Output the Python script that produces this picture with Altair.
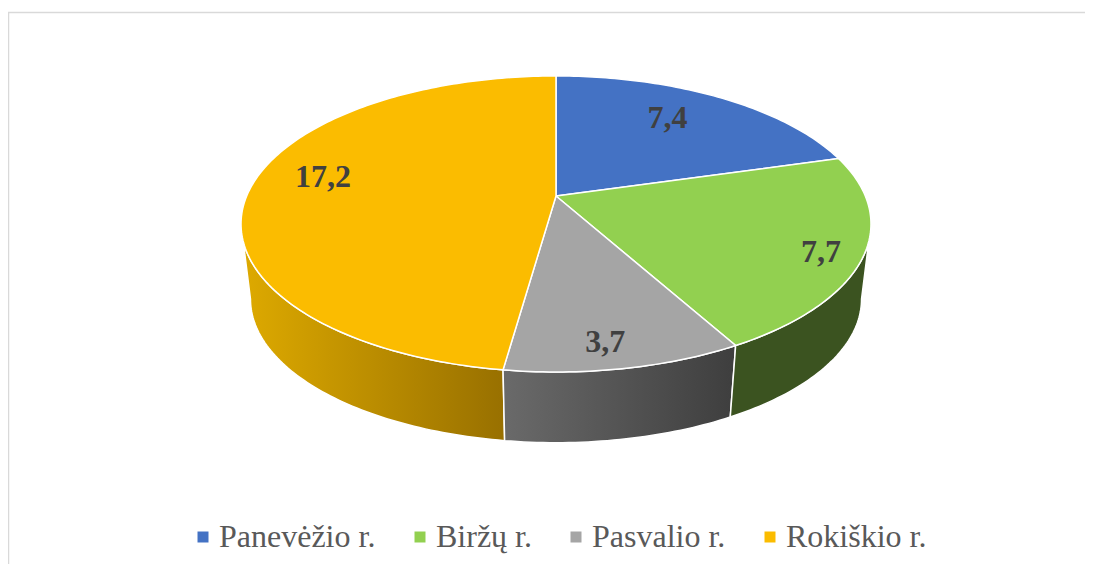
import math
import altair as alt

# ---- data ----
names = ["Panevėžio r.", "Biržų r.", "Pasvalio r.", "Rokiškio r."]
values = [7.4, 7.7, 3.7, 17.2]
top_colors = ["#4472c4", "#92d050", "#a5a5a5", "#fbbc00"]
label_fx = [0.69, 0.86, 0.71, 0.765]   # label position along each slice's mid radius
label_fy = [0.79, 0.95, 0.85, 1.92]

# ---- layout of the tilted disc (plot pixels) ----
CX, CY = 548, 188      # apex of the slices
A, B, P = 309.3, 142.7, 0.189   # perspective projection of the circle
LOWER_CY, LOWER_S = 264, 0.97   # lower rim of the disc
FRAME = "#d9d9d9"
TANGENT = math.degrees(math.acos(-P))   # where the disc's outline turns back


def rim(theta, cy=CY, s=1.0):
    t = math.radians(theta)
    w = 1 + P * math.cos(t)
    return [CX + s * A * math.sin(t) / w, cy - s * B * math.cos(t) / w]


def arc(t0, t1, **kw):
    n = max(2, int(abs(t1 - t0)) + 1)
    return [rim(t0 + (t1 - t0) * i / (n - 1), **kw) for i in range(n)]


def feature(ring, name):
    return {"type": "Feature", "properties": {"name": name},
            "geometry": {"type": "Polygon", "coordinates": [ring + [ring[0]]]}}


total = sum(values)
bounds = [0.0]
for v in values:
    bounds.append(bounds[-1] + 360 * v / total)

wedges = [
    feature([[CX, CY]] + arc(bounds[i], bounds[i + 1]), names[i]) for i in range(4)
]


def side(t0, t1, name):
    return [feature(arc(t0, t1) + arc(t1, t0, cy=LOWER_CY, s=LOWER_S), name)]


proj = dict(type="identity", scale=1, translate=[0, 0])


def grad(c0, c1):
    return alt.Gradient(gradient="linear", x1=0, x2=1, y1=0, y2=0,
                        stops=[alt.GradientStop(color=c0, offset=0),
                               alt.GradientStop(color=c1, offset=1)])


def side_layer(t0, t1, name, c0, c1):
    return alt.Chart(alt.Data(values=side(t0, t1, name))).mark_geoshape(
        fill=grad(c0, c1), stroke="white", strokeWidth=1.5
    ).project(**proj)


gold_side = side_layer(bounds[3], 360 - TANGENT, names[3], "#deaa00", "#987000")
gray_side = side_layer(bounds[2], bounds[3], names[2], "#6a6a6a", "#3e3e3e")
green_side = side_layer(TANGENT, bounds[2], names[1], "#3b5320", "#3b5320")

tops = alt.Chart(alt.Data(values=wedges)).mark_geoshape(
    stroke="white", strokeWidth=1.5
).encode(
    color=alt.Color(
        "properties.name:N",
        scale=alt.Scale(domain=names, range=top_colors),
        legend=alt.Legend(
            title=None, orient="none", legendX=179, legendY=513, direction="horizontal",
            columns=4, columnPadding=28, symbolType="square", symbolSize=121,
            symbolStrokeWidth=0, labelFont="Liberation Serif", labelFontSize=32,
            labelColor="#595959", labelLimit=300, labelOffset=0,
        ),
    )
).project(**proj)

label_rows = []
for i, v in enumerate(values):
    mid = (bounds[i] + bounds[i + 1]) / 2
    x, y = rim(mid)
    label_rows.append({
        "txt": f"{v:.1f}".replace(".", ","),
        "lon": CX + (x - CX) * label_fx[i],
        "lat": CY + (y - CY) * label_fy[i],
    })

labels = alt.Chart(alt.Data(values=label_rows)).mark_text(
    font="Liberation Serif", fontSize=32, fontWeight="bold", color="#404040"
).encode(
    longitude="lon:Q", latitude="lat:Q", text="txt:N"
).project(**proj)

frame = alt.Chart(alt.Data(values=[{
    "type": "Feature", "properties": {},
    "geometry": {"type": "LineString", "coordinates": [[0.5, 556], [0.5, 4.5], [1077, 4.5]]},
}])).mark_geoshape(filled=False, stroke=FRAME, strokeWidth=1.5).project(**proj)

chart = alt.layer(frame, gold_side, gray_side, green_side, tops, labels).properties(
    width=1077, height=556, padding=0, autosize=alt.AutoSizeParams(type="none"),
    background="white",
).configure_view(stroke=None)

chart.save("out.html", embed_options={"renderer": "svg", "actions": False})
